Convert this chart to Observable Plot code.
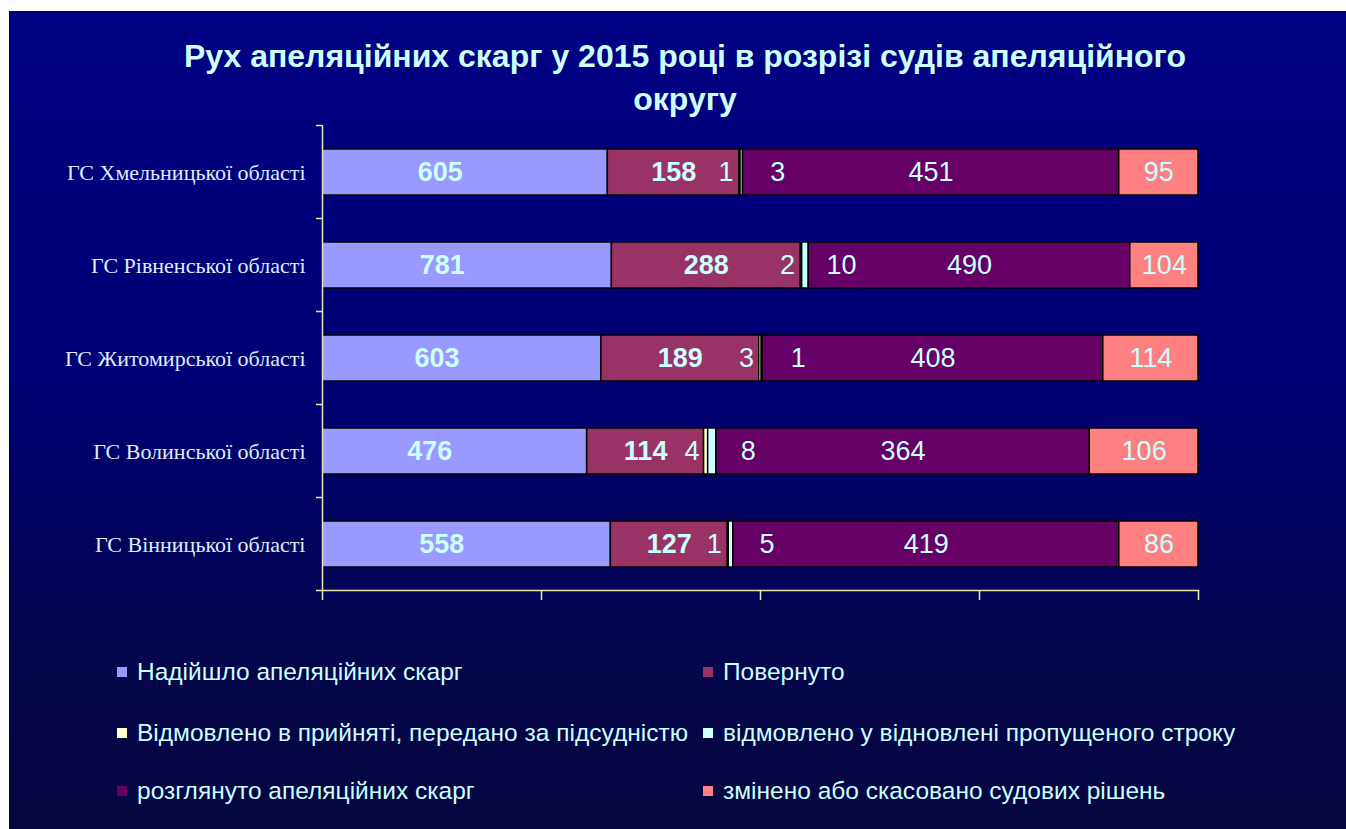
<!DOCTYPE html>
<html>
<head>
<meta charset="utf-8">
<script src="https://cdn.jsdelivr.net/npm/d3@7"></script>
<script src="https://cdn.jsdelivr.net/npm/@observablehq/plot@0.6"></script>
<style>
  html, body { margin: 0; padding: 0; background: #ffffff; }
  #page { position: relative; width: 1346px; height: 829px; overflow: hidden; background: #ffffff; }
  #panel { position: absolute; left: 9px; top: 11px; width: 1337px; height: 818px;
           background: linear-gradient(to bottom, #000084 0%, #000074 45%, #05054c 80%, #060640 100%); }
  #title { position: absolute; left: 0; top: 35px; width: 1370px; text-align: center;
           font: bold 32px "Liberation Sans", Arial, sans-serif; line-height: 43px; color: #ccffff; }
  #chart { position: absolute; left: 0; top: 0; }
  .leg { position: absolute; display: flex; align-items: center; height: 30px;
         font: 24.5px "Liberation Sans", Arial, sans-serif; color: #ccffff; white-space: nowrap; }
  .leg i { display: inline-block; width: 10px; height: 10px; margin-right: 10px; }
</style>
</head>
<body>
<div id="page">
  <div id="panel"></div>
  <div id="chart"></div>
  <div id="title">Рух апеляційних скарг у 2015 році в розрізі судів апеляційного<br>округу</div>
  <div id="legend"></div>
</div>
<script>
// ---- data ----
const courts = [
  "ГС Хмельницької області",
  "ГС Рівненської області",
  "ГС Житомирської області",
  "ГС Волинської області",
  "ГС Вінницької області"
];
const seriesNames = [
  "Надійшло апеляційних скарг",
  "Повернуто",
  "Відмовлено в прийняті, передано за підсудністю",
  "відмовлено у відновлені пропущеного строку",
  "розглянуто апеляційних скарг",
  "змінено або скасовано судових рішень"
];
// printed values (labels)
const nadiishlo   = [605, 781, 603, 476, 558];
const povernuto   = [158, 288, 189, 114, 127];
const vidmovleno  = [1, 2, 3, 4, 1];
const vidmStroku  = [3, 10, 1, 8, 5];
const rozghlianuto = [451, 490, 408, 364, 419];
const zmineno     = [95, 104, 114, 106, 86];
// length of the first segment as drawn in the picture (same units as the other segments)
const nadiishloDrawn = [342, 441, 334, 258, 313];
const xTicks = [0, 0.25, 0.5, 0.75, 1];

// ---- styles ----
const colors = ["#9999ff", "#993366", "#ffffcc", "#ccffff", "#660066", "#ff8080"];
const labelDx = [-25, 0, -14, 36, 0, 0];
const labelBold = [true, true, false, false, false, false];

const lengths = [nadiishloDrawn, povernuto, vidmovleno, vidmStroku, rozghlianuto, zmineno];
const labels  = [nadiishlo, povernuto, vidmovleno, vidmStroku, rozghlianuto, zmineno];

const data = courts.flatMap((c, i) => seriesNames.map((s, j) => ({
  court: c, series: s, value: lengths[j][i], label: labels[j][i]
})));

const axisColor = "#e8e8b0";
const stackOpts = {offset: "normalize", x: "value", y: "court", z: "series", order: seriesNames};

const textMarks = seriesNames.map((s, j) => Plot.text(data, Plot.stackX({
  ...stackOpts,
  text: d => d.series === s ? String(d.label) : null,
  fill: "#ccffff",
  fontSize: 27,
  fontWeight: labelBold[j] ? "bold" : "normal",
  fontFamily: "Liberation Sans, Arial, sans-serif",
  dx: labelDx[j]
})));

const chart = Plot.plot({
  width: 1346,
  height: 620,
  marginLeft: 322,
  marginRight: 148,
  marginTop: 125,
  marginBottom: 30,
  style: {background: "transparent", color: "#ddeeff", overflow: "visible"},
  x: {domain: [0, 1], label: null},
  y: {domain: courts, paddingInner: 0.51, paddingOuter: 0.255, label: null},
  color: {domain: seriesNames, range: colors},
  marks: [
    Plot.barX(data, Plot.stackX({...stackOpts, fill: "series", stroke: "#000000", strokeWidth: 1.5})),
    ...textMarks,
    Plot.axisY({tickSize: 0, tickPadding: 17, fontSize: 22, fontFamily: "Liberation Serif, Times New Roman, serif", fill: "#ddeeff", label: null}),
    Plot.axisX({ticks: xTicks, tickFormat: () => "", tickSize: 10, stroke: axisColor, strokeWidth: 1.5, label: null}),
    Plot.ruleX([0], {stroke: axisColor, strokeWidth: 1.5}),
    Plot.frame({anchor: "bottom", stroke: axisColor, strokeWidth: 1.5})
  ]
});
document.getElementById("chart").appendChild(chart);

// y-axis boundary ticks (computed from the band scale)
const ys = chart.scale("y");
const gap = ys.step - ys.bandwidth;
const bounds = courts.map(c => ys.apply(c) - gap / 2).concat([ys.apply(courts[courts.length - 1]) + ys.bandwidth + gap / 2]);
const x0 = chart.scale("x").apply(0);
const svg = d3.select(chart);
svg.append("g").selectAll("line").data(bounds).join("line")
  .attr("x1", x0 - 6).attr("x2", x0).attr("y1", d => d).attr("y2", d => d)
  .attr("stroke", axisColor).attr("stroke-width", 1.5);

// legend
const legPos = [[117, 657], [703, 657], [117, 718], [703, 718], [117, 776], [703, 776]];
const legend = document.getElementById("legend");
seriesNames.forEach((s, j) => {
  const el = document.createElement("div");
  el.className = "leg";
  el.style.left = legPos[j][0] + "px";
  el.style.top = legPos[j][1] + "px";
  el.innerHTML = `<i style="background:${colors[j]}"></i>${s}`;
  legend.appendChild(el);
});
</script>
</body>
</html>
